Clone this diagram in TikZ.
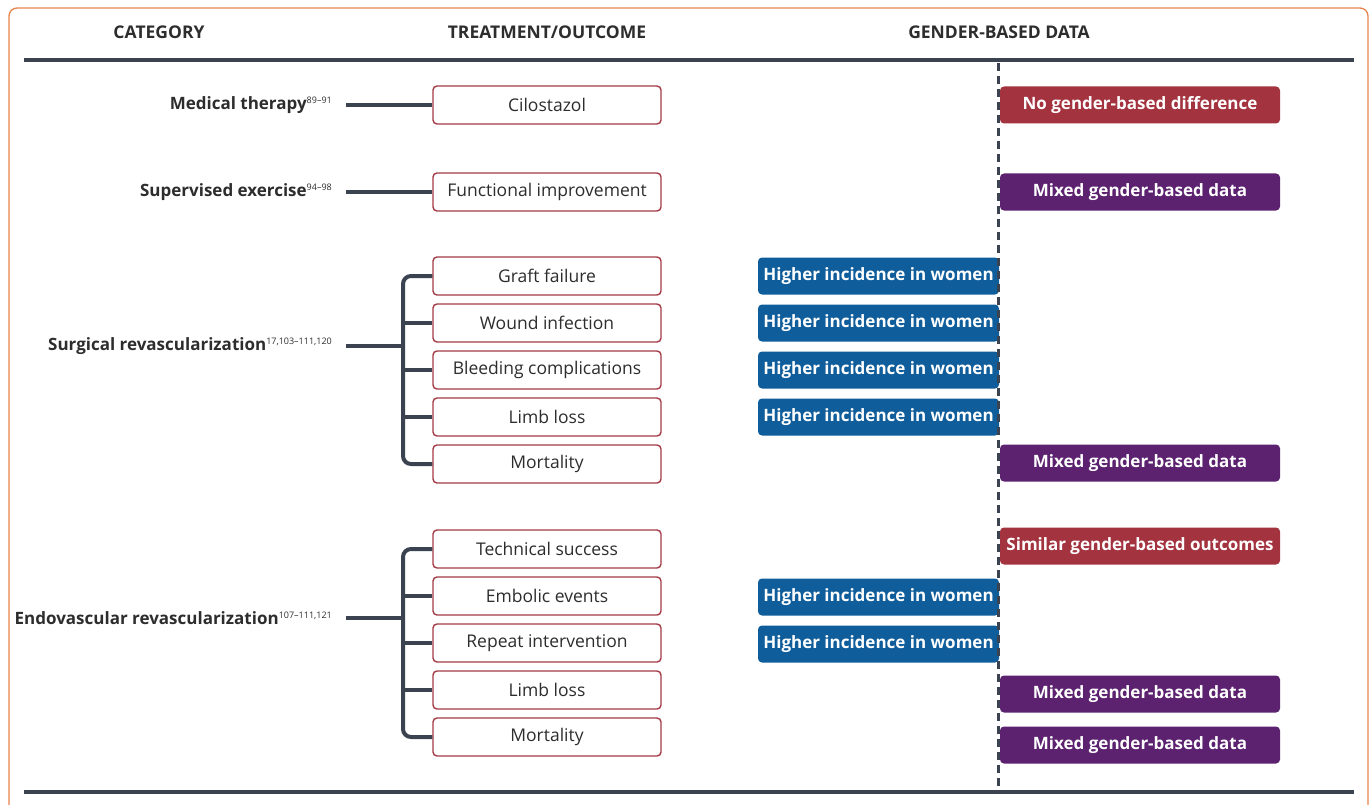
\documentclass[tikz,border=0pt]{standalone}
\usepackage{fontspec}
\setmainfont{Open Sans}
\definecolor{lineg}{HTML}{3B4350}
\definecolor{outred}{HTML}{A33B45}
\definecolor{txt}{HTML}{2D2D2D}
\definecolor{bblue}{HTML}{0F5D9B}
\definecolor{bred}{HTML}{A3333F}
\definecolor{bpurp}{HTML}{5C2270}
\definecolor{frameor}{HTML}{E8834A}
\newcommand{\refsup}[1]{\raisebox{6pt}{\fontsize{9}{11}\mdseries\selectfont #1}}
\begin{document}
\begin{tikzpicture}[x=1pt,y=-1pt,
  hdr/.style={font=\bfseries\fontsize{17.5}{20}\selectfont, text=txt},
  catlab/.style={anchor=east, font=\bfseries\fontsize{17}{20}\selectfont, text=txt, inner sep=0pt},
  outbox/.style={draw=outred, line width=1.4pt, rounded corners=4pt, fill=white, minimum width=228pt, minimum height=38pt, inner sep=0pt, font=\fontsize{17.5}{20}\selectfont, text=txt},
  tagbox/.style={rounded corners=4pt, minimum height=37pt, inner sep=0pt, font=\bfseries\fontsize{17}{20}\selectfont, text=white},
  bluebox/.style={tagbox, fill=bblue, minimum width=241pt},
  redbox/.style={tagbox, fill=bred, minimum width=280pt},
  purpbox/.style={tagbox, fill=bpurp, minimum width=280pt},
  conn/.style={draw=lineg, line width=4pt},
  rule/.style={draw=lineg, line width=4.5pt}
]
\useasboundingbox (0,0) rectangle (1372,805);
% frame
\draw[frameor, line width=1.3pt, rounded corners=8pt] (9,820) -- (9,8) -- (1368,8) -- (1368,820);
% headers
\node[hdr] (h1) at (159,32) {CATEGORY};
\node[hdr] (h2) at (547,32) {TREATMENT/OUTCOME};
\node[hdr] (h3) at (999,32) {GENDER-BASED DATA};
\coordinate (rt1) at (24,60); \coordinate (rt2) at (1354,60);
\coordinate (rb1) at (24,792); \coordinate (rb2) at (1354,792);
\draw[rule] (rt1) -- (rt2);
\draw[rule] (rb1) -- (rb2);
% category labels
\node[catlab] (c1) at (332,105) {Medical therapy\refsup{89--91}};
\node[catlab] (c2) at (332,192) {Supervised exercise\refsup{94--98}};
\node[catlab] (c3) at (332,346) {Surgical revascularization\refsup{17,103--111,120}};
\node[catlab] (c4) at (332,618) {Endovascular revascularization\refsup{107--111,121}};
% outcome boxes
\node[outbox] (o1) at (547,105) {Cilostazol};
\node[outbox] (o2) at (547,192) {Functional improvement};
\node[outbox] (s1) at (547,276) {Graft failure};
\node[outbox] (s2) at (547,323) {Wound infection};
\node[outbox] (s3) at (547,370) {Bleeding complications};
\node[outbox] (s4) at (547,417) {Limb loss};
\node[outbox] (s5) at (547,464) {Mortality};
\node[outbox] (e1) at (547,549) {Technical success};
\node[outbox] (e2) at (547,596) {Embolic events};
\node[outbox] (e3) at (547,643) {Repeat intervention};
\node[outbox] (e4) at (547,690) {Limb loss};
\node[outbox] (e5) at (547,737) {Mortality};
% connectors
\draw[conn, shorten <=14pt] (c1.east) -- (o1.west);
\draw[conn, shorten <=14pt] (c2.east) -- (o2.west);
\coordinate (sx) at (403,346);
\coordinate (sm) at (403,370);
\draw[conn, rounded corners=8pt] (s1.west) -| (sm) |- (s5.west);
\draw[conn, shorten <=14pt] (c3.east) -- (sx);
\draw[conn] (sm |- s2.west) -- (s2.west);
\draw[conn] (sm |- s3.west) -- (s3.west);
\draw[conn] (sm |- s4.west) -- (s4.west);
\coordinate (ex) at (403,618);
\coordinate (em) at (403,643);
\draw[conn, rounded corners=8pt] (e1.west) -| (em) |- (e5.west);
\draw[conn, shorten <=14pt] (c4.east) -- (ex);
\draw[conn] (em |- e2.west) -- (e2.west);
\draw[conn] (em |- e3.west) -- (e3.west);
\draw[conn] (em |- e4.west) -- (e4.west);
% gender boxes
\node[redbox] (g1) at (1140,105) {No gender-based difference};
\node[purpbox] (g2) at (1140,192) {Mixed gender-based data};
\node[bluebox] (b1) at (878.5,276) {Higher incidence in women};
\node[bluebox] (b2) at (878.5,323) {Higher incidence in women};
\node[bluebox] (b3) at (878.5,370) {Higher incidence in women};
\node[bluebox] (b4) at (878.5,417) {Higher incidence in women};
\node[purpbox] (g3) at (1140,463) {Mixed gender-based data};
\node[redbox] (g4) at (1140,546) {Similar gender-based outcomes};
\node[bluebox] (b5) at (878.5,597) {Higher incidence in women};
\node[bluebox] (b6) at (878.5,644) {Higher incidence in women};
\node[purpbox] (g5) at (1140,694) {Mixed gender-based data};
\node[purpbox] (g6) at (1140,745) {Mixed gender-based data};
% dashed divider
\coordinate (d1) at (998.5,63); \coordinate (d2) at (998.5,789);
\draw[draw=lineg, line width=3.5pt, dash pattern=on 8pt off 5pt] (d1) -- (d2);
\end{tikzpicture}
\end{document}
